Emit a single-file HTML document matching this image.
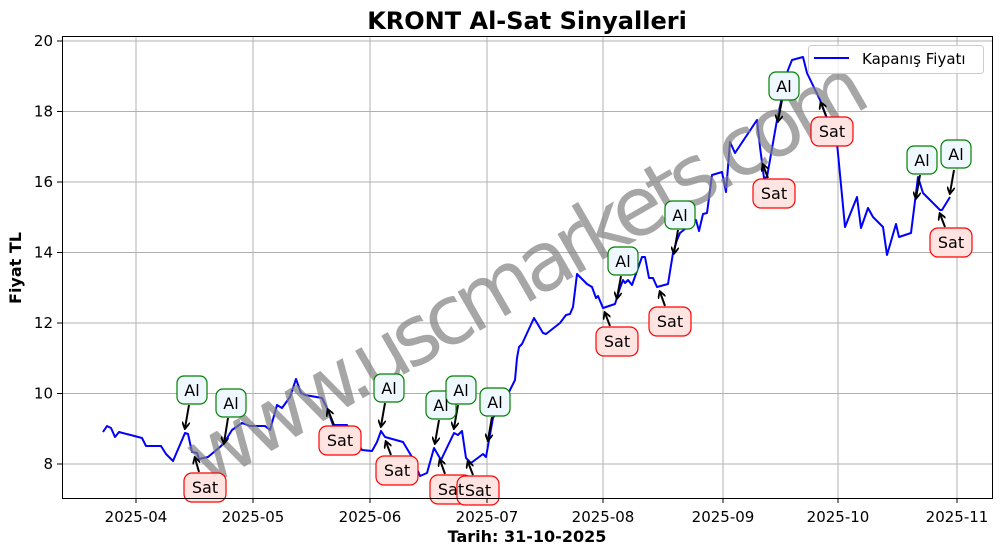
<!DOCTYPE html>
<html><head><meta charset="utf-8"><style>body{margin:0;background:#fff}svg{display:block}</style></head>
<body>
<svg width="1001" height="554" xmlns="http://www.w3.org/2000/svg" font-family="'DejaVu Sans','Liberation Sans',sans-serif">
<rect width="1001" height="554" fill="#fff"/>
<g stroke="#b0b0b0" stroke-width="1">
<line x1="136" y1="36" x2="136" y2="498"/><line x1="253" y1="36" x2="253" y2="498"/><line x1="370" y1="36" x2="370" y2="498"/><line x1="487" y1="36" x2="487" y2="498"/><line x1="603" y1="36" x2="603" y2="498"/><line x1="723" y1="36" x2="723" y2="498"/><line x1="838" y1="36" x2="838" y2="498"/><line x1="957" y1="36" x2="957" y2="498"/>
<line x1="62" y1="464" x2="992" y2="464"/><line x1="62" y1="393.5" x2="992" y2="393.5"/><line x1="62" y1="323" x2="992" y2="323"/><line x1="62" y1="252.5" x2="992" y2="252.5"/><line x1="62" y1="182" x2="992" y2="182"/><line x1="62" y1="111.5" x2="992" y2="111.5"/><line x1="62" y1="41" x2="992" y2="41"/>
</g>
<polyline fill="none" stroke="#0000ff" stroke-width="2" stroke-linejoin="round" points="103,432 107,426 111,428 115,437 119,432 142,438 146,446 161,446 166,454 173,461 185,433 188,434 192,452 197,453 199,459 208,457 220,447 224,443 232,430 242,423 250,426 265,426 270,430 277,405 282,408 290,397 296,379 301,393 305,395 322,398 327,408 333,425 347,425 362,450 372,451 377,442 381,431 385,437 403,442 412,457 420,476 427,473 434,448 441,460 454,433 458,435 462,431 466,458 471,463 483,454 486,457 493,418 509,392 515,380 517,358 519,347 522,344 534,318 543,333 546,334 560,323 566,315 570,314 573,307 577,274 587,284 592,287 596,298 598,296 603,308 615,304 620,288 623,280 625,283 628,280 632,285 642,257 645,257 649,278 653,278 657,287 668,284 673,253 677,240 680,233 696,220 699,231 703,214 707,213 712,175 722,172 726,192 730,142 735,153 757,120 760,147 764,178 767,177 777,120 788,70 792,60 803,57 807,73 820,100 825,113 837,143 845,227 857,197 861,228 868,208 873,217 883,227 887,255 896,224 899,237 911,233 918,177 923,193 940,210 942,210 950,197"/>
<text x="525" y="300" font-size="82" fill="#808080" fill-opacity="0.7" text-anchor="middle" textLength="770" transform="rotate(-30 525 270)">www.uscmarkets.com</text>
<defs><marker id="ah" markerWidth="8" markerHeight="8" refX="6" refY="4" orient="auto" markerUnits="userSpaceOnUse"><path d="M0,0 L7,4 L0,8" fill="none" stroke="#000" stroke-width="1.8"/></marker></defs>
<g stroke="#000" stroke-width="2" marker-end="url(#ah)">
<line x1="189" y1="405" x2="185" y2="428"/><line x1="228" y1="418" x2="224" y2="443"/><line x1="385" y1="403" x2="381" y2="426"/><line x1="439" y1="420" x2="435" y2="443"/><line x1="458" y1="405" x2="454" y2="428"/><line x1="492" y1="417" x2="488" y2="440"/><line x1="621" y1="276" x2="617" y2="298"/><line x1="678" y1="230" x2="674" y2="253"/><line x1="782" y1="100" x2="778" y2="121"/><line x1="920" y1="175" x2="916" y2="198"/><line x1="954" y1="170" x2="950" y2="193"/>
<line x1="199" y1="472" x2="195" y2="458"/><line x1="334" y1="425" x2="328" y2="410"/><line x1="391" y1="455" x2="386" y2="442"/><line x1="445" y1="474" x2="440" y2="460"/><line x1="473" y1="475" x2="468" y2="462"/><line x1="610" y1="326" x2="605" y2="313"/><line x1="665" y1="306" x2="660" y2="292"/><line x1="768" y1="178" x2="763" y2="165"/><line x1="826" y1="116" x2="821" y2="103"/><line x1="945" y1="227" x2="940" y2="214"/>
</g>
<g font-size="16" text-anchor="middle">
<g fill="#f0f8ff" stroke="#008000" stroke-width="1.2">
<rect x="177" y="376" width="30" height="28" rx="7"/><rect x="216" y="389" width="30" height="28" rx="7"/><rect x="374" y="374" width="30" height="28" rx="7"/><rect x="426" y="391" width="30" height="28" rx="7"/><rect x="446" y="376" width="30" height="28" rx="7"/><rect x="480" y="388" width="30" height="28" rx="7"/><rect x="608" y="247" width="30" height="28" rx="7"/><rect x="665" y="201" width="30" height="28" rx="7"/><rect x="769" y="72" width="30" height="28" rx="7"/><rect x="907" y="146" width="30" height="28" rx="7"/><rect x="941" y="140" width="30" height="28" rx="7"/>
</g>
<g fill="#000">
<text x="192" y="396">Al</text><text x="231" y="409">Al</text><text x="389" y="394">Al</text><text x="441" y="411">Al</text><text x="461" y="396">Al</text><text x="495" y="408">Al</text><text x="623" y="267">Al</text><text x="680" y="221">Al</text><text x="784" y="92">Al</text><text x="922" y="166">Al</text><text x="956" y="160">Al</text>
</g>
<g fill="#ffe4e1" stroke="#ff0000" stroke-width="1.2">
<rect x="184" y="473" width="42" height="29" rx="8"/><rect x="319" y="426" width="42" height="29" rx="8"/><rect x="376" y="456" width="42" height="29" rx="8"/><rect x="430" y="475" width="42" height="29" rx="8"/><rect x="457" y="476" width="42" height="29" rx="8"/><rect x="596" y="327" width="42" height="29" rx="8"/><rect x="649" y="307" width="42" height="29" rx="8"/><rect x="753" y="179" width="42" height="29" rx="8"/><rect x="811" y="117" width="42" height="29" rx="8"/><rect x="930" y="228" width="42" height="29" rx="8"/>
</g>
<g fill="#000">
<text x="205" y="493">Sat</text><text x="340" y="446">Sat</text><text x="397" y="476">Sat</text><text x="451" y="495">Sat</text><text x="478" y="496">Sat</text><text x="617" y="347">Sat</text><text x="670" y="327">Sat</text><text x="774" y="199">Sat</text><text x="832" y="137">Sat</text><text x="951" y="248">Sat</text>
</g>
</g>
<rect x="62.5" y="36.5" width="930" height="462" fill="none" stroke="#000" stroke-width="1"/>
<g stroke="#000"><line x1="136" y1="498" x2="136" y2="503"/><line x1="253" y1="498" x2="253" y2="503"/><line x1="370" y1="498" x2="370" y2="503"/><line x1="487" y1="498" x2="487" y2="503"/><line x1="603" y1="498" x2="603" y2="503"/><line x1="723" y1="498" x2="723" y2="503"/><line x1="838" y1="498" x2="838" y2="503"/><line x1="957" y1="498" x2="957" y2="503"/>
<line x1="57" y1="464" x2="62" y2="464"/><line x1="57" y1="393.5" x2="62" y2="393.5"/><line x1="57" y1="323" x2="62" y2="323"/><line x1="57" y1="252.5" x2="62" y2="252.5"/><line x1="57" y1="182" x2="62" y2="182"/><line x1="57" y1="111.5" x2="62" y2="111.5"/><line x1="57" y1="41" x2="62" y2="41"/></g>
<g font-size="15" text-anchor="middle" fill="#000">
<text x="136" y="522">2025-04</text><text x="253" y="522">2025-05</text><text x="370" y="522">2025-06</text><text x="487" y="522">2025-07</text><text x="603" y="522">2025-08</text><text x="723" y="522">2025-09</text><text x="838" y="522">2025-10</text><text x="957" y="522">2025-11</text>
</g>
<g font-size="15" text-anchor="end" fill="#000">
<text x="53" y="469">8</text><text x="53" y="398.5">10</text><text x="53" y="328">12</text><text x="53" y="257.5">14</text><text x="53" y="187">16</text><text x="53" y="116.5">18</text><text x="53" y="46">20</text>
</g>
<text x="527" y="542" font-size="16" font-weight="bold" text-anchor="middle">Tarih: 31-10-2025</text>
<text x="21" y="268" font-size="16" font-weight="bold" text-anchor="middle" transform="rotate(-90 21 268)">Fiyat TL</text>
<text x="527" y="29" font-size="24" font-weight="bold" text-anchor="middle">KRONT Al-Sat Sinyalleri</text>
<rect x="808.5" y="45.5" width="175" height="28" rx="3" fill="#fff" fill-opacity="0.8" stroke="#ccc"/>
<line x1="814" y1="58" x2="849" y2="58" stroke="#0000ff" stroke-width="2"/>
<text x="862" y="64" font-size="15">Kapanış Fiyatı</text>
</svg>
</body></html>
